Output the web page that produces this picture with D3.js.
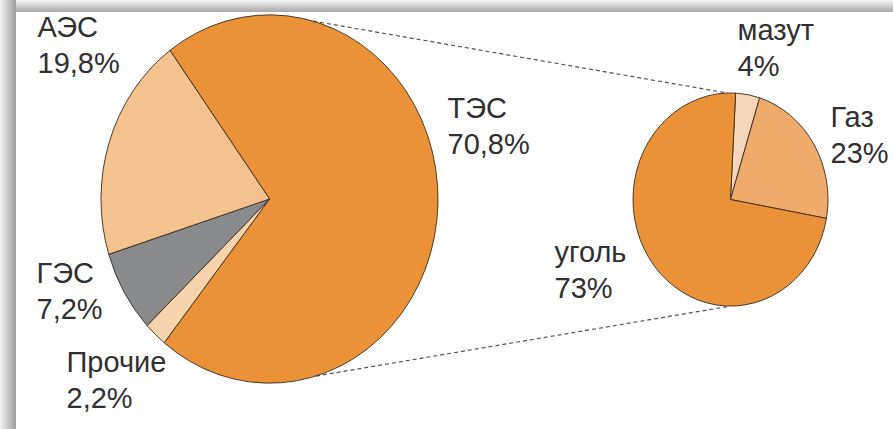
<!DOCTYPE html>
<html>
<head>
<meta charset="utf-8">
<script src="https://cdn.jsdelivr.net/npm/d3@7"></script>
<style>
  body { margin: 0; background: #fff; }
  svg { display: block; }
  .lbl { font-family: "Liberation Sans", Arial, sans-serif; font-size: 29px; fill: #303030; }
  .slice { stroke: #3b2b1e; stroke-width: 0.9; }
  .link { stroke: #555; stroke-width: 1.2; stroke-dasharray: 4 3; fill: none; }
</style>
</head>
<body>
<svg width="893" height="429"></svg>
<script>
// electricity generation structure
const plantNames = ["ТЭС", "Прочие", "ГЭС", "АЭС"];
const plantShares = [70.8, 2.2, 7.2, 19.8];
const plantText = ["70,8%", "2,2%", "7,2%", "19,8%"];
const plantColors = ["#e99237", "#f8d4ad", "#898a8c", "#f3c28e"];

// fuel split of ТЭС
const fuelNames = ["мазут", "Газ", "уголь"];
const fuelShares = [4, 23, 73];
const fuelText = ["4%", "23%", "73%"];
const fuelColors = ["#f6d5b8", "#eeab6c", "#e99237"];

const width = 893, height = 429;
const ky = 1.093; // picture is slightly stretched vertically
const rad = d => d * Math.PI / 180;

var svg = d3.select("svg");

// frame: grey shadowed edge on top and left
var defs = svg.append("defs");
var gl = defs.append("linearGradient").attr("id", "gl").attr("x1", 0).attr("x2", 1).attr("y1", 0).attr("y2", 0);
gl.append("stop").attr("offset", "0%").attr("stop-color", "#f4f4f4");
gl.append("stop").attr("offset", "100%").attr("stop-color", "#9c9c9c");
var gt = defs.append("linearGradient").attr("id", "gt").attr("x1", 0).attr("x2", 0).attr("y1", 0).attr("y2", 1);
gt.append("stop").attr("offset", "0%").attr("stop-color", "#f6f6f6");
gt.append("stop").attr("offset", "100%").attr("stop-color", "#a6a6a6");

svg.append("rect").attr("width", width).attr("height", height).attr("fill", "#fff");
svg.append("rect").attr("x", 0).attr("y", 0).attr("width", width).attr("height", 12).attr("fill", "url(#gt)");
svg.append("rect").attr("x", 0).attr("y", 0).attr("width", 16).attr("height", height).attr("fill", "url(#gl)");

var big = { cx: 269.5, cy: 199, r: 168.5, start: -36.2 };
var small = { cx: 730.5, cy: 199.5, r: 97.5, start: 3 };

function drawPie(p, values, colors) {
    var pie = d3.pie().sort(null)
        .startAngle(rad(p.start))
        .endAngle(rad(p.start) + 2 * Math.PI);
    var arc = d3.arc().innerRadius(0).outerRadius(p.r);
    var g = svg.append("g")
        .attr("transform", `translate(${p.cx},${p.cy}) scale(1,${ky})`);
    g.selectAll("path")
        .data(pie(values))
        .join("path")
        .attr("class", "slice")
        .attr("vector-effect", "non-scaling-stroke")
        .attr("fill", (d, i) => colors[i])
        .attr("d", arc);
}

function rim(p, deg) {
    return [p.cx + p.r * Math.sin(rad(deg)), p.cy - p.r * ky * Math.cos(rad(deg))];
}

// dashed connectors between the two pies
svg.append("path").attr("class", "link")
    .attr("d", d3.line()([rim(big, 15), rim(small, -2)]));
svg.append("path").attr("class", "link")
    .attr("d", d3.line()([rim(big, 164), rim(small, 180)]));

drawPie(big, plantShares, plantColors);
drawPie(small, fuelShares, fuelColors);

// label offsets from the pie centre: [dx, baseline dy]
var plantPos = [[178, -81], [-203, 173], [-233, 84], [-232, -162]];
var fuelPos = [[7, -160], [100, -73], [-176, 62]];

function drawLabels(p, names, texts, pos) {
    names.forEach((n, i) => {
        var t = svg.append("text").attr("class", "lbl")
            .attr("x", p.cx + pos[i][0]).attr("y", p.cy + pos[i][1]);
        t.append("tspan").attr("x", p.cx + pos[i][0]).text(n);
        t.append("tspan").attr("x", p.cx + pos[i][0]).attr("dy", 36).text(texts[i]);
    });
}
drawLabels(big, plantNames, plantText, plantPos);
drawLabels(small, fuelNames, fuelText, fuelPos);
</script>
</body>
</html>
